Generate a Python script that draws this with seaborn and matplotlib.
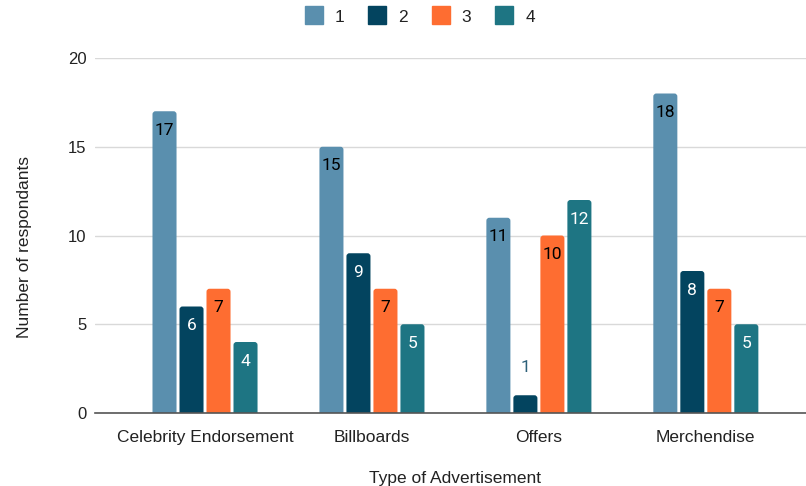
import matplotlib
matplotlib.use("Agg")
import matplotlib.pyplot as plt
import seaborn as sns
import pandas as pd
from matplotlib.lines import Line2D
from matplotlib.patches import FancyBboxPatch

categories = ["Celebrity Endorsement", "Billboards", "Offers", "Merchendise"]
series_names = ["1", "2", "3", "4"]
s1 = [17, 15, 11, 18]
s2 = [6, 9, 1, 8]
s3 = [7, 7, 10, 7]
s4 = [4, 5, 12, 5]
colors = ["#5a8fae", "#03445f", "#fe6d31", "#1e7583"]
label_colors = ["#000000", "#ffffff", "#000000", "#ffffff"]

rows = []
for name, vals in zip(series_names, [s1, s2, s3, s4]):
    for c, v in zip(categories, vals):
        rows.append({"cat": c, "series": name, "value": v})
df = pd.DataFrame(rows)

sns.set_theme(style="white")
plt.rcParams['font.family'] = ['Liberation Sans', 'DejaVu Sans']

fig = plt.figure(figsize=(8.06, 4.86), dpi=100)
ax = fig.add_axes([95/806, 1 - 413/486, (806-95)/806, (413-58)/486])

sns.barplot(data=df, x="cat", y="value", hue="series", palette=colors,
            order=categories, hue_order=series_names, width=0.647, gap=0.11,
            ax=ax, legend=False, saturation=1, linewidth=0)

ax.set_xlim(-0.659, 3.60)
ax.set_ylim(0, 20)

# rounded tops: replace bars by rounded patches
px_x = 1 / 167.0
px_y = 1 / 17.75
r = 3 * px_x
aspect = (3 * px_y) / r
for i, cont in enumerate(ax.containers):
    for bar in cont:
        x, w, h = bar.get_x(), bar.get_width(), bar.get_height()
        bar.set_visible(False)
        fb = FancyBboxPatch((x, -0.5), w, h + 0.5,
                            boxstyle=f"round,pad=0,rounding_size={r}",
                            mutation_aspect=aspect, facecolor=colors[i],
                            edgecolor="none", zorder=2, clip_on=True)
        ax.add_patch(fb)

ax.set_yticks([0, 5, 10, 15, 20])
ax.yaxis.grid(True, color="#d9d9d9", linewidth=1)
ax.set_axisbelow(True)
for s in ["top", "right", "left"]:
    ax.spines[s].set_visible(False)
ax.spines["bottom"].set_color("#555555")
ax.spines["bottom"].set_linewidth(1.2)
ax.spines["bottom"].set_zorder(3)
ax.tick_params(axis="y", length=0, labelsize=12, colors="#222222", pad=6)
ax.tick_params(axis="x", length=0, labelsize=12.5, colors="#222222", pad=12)

ax.set_xlabel("Type of Advertisement", fontsize=12.5, color="#222222")
ax.set_ylabel("Number of respondants", fontsize=12.5, color="#222222")
ax.xaxis.set_label_coords(0.506, -0.162)
ax.yaxis.set_label_coords(-0.089, 0.468)

# bar labels
for i, cont in enumerate(ax.containers):
    for bar in cont:
        h = bar.get_height()
        x = bar.get_x() + bar.get_width() / 2
        txt = f"{int(h)}"
        if h >= 2:
            ax.text(x, h - 0.65, txt, ha="center", va="top", fontsize=12.5,
                    color=label_colors[i], family=["Roboto", "DejaVu Sans"], zorder=4)
        else:
            ax.text(x, h + 1.55, txt, ha="center", va="center", fontsize=12.5,
                    color="#2d6079", family=["Roboto", "DejaVu Sans"], zorder=4)

handles = [Line2D([0], [0], marker="s", linestyle="", markersize=12.5,
                  markerfacecolor=c, markeredgecolor=c) for c in colors]
fig.legend(handles, series_names, loc="center", bbox_to_anchor=(0.52, 1 - 17/486),
           ncol=4, frameon=False, fontsize=12.5, handletextpad=0.6, columnspacing=1.3,
           handlelength=1.2, labelcolor="#222222")

fig.savefig("out.png", dpi=100)
